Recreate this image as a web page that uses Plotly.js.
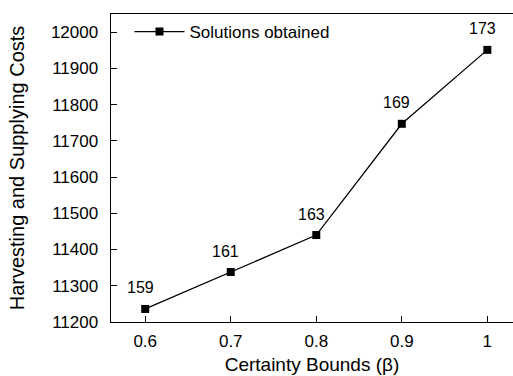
<!DOCTYPE html>
<html>
<head>
<meta charset="utf-8">
<script src="https://cdn.plot.ly/plotly-3.0.1.min.js"></script>
<style>html,body{margin:0;padding:0;background:#fff;}#chart{width:513px;height:376px;}</style>
</head>
<body>
<div id="chart"></div>
<script>
const bounds = [0.6, 0.7, 0.8, 0.9, 1];
const costs = [11236, 11338, 11440, 11747, 11951];
const solutionLabels = ['159', '161', '163', '169', '173'];
const xTicks = [0.6, 0.7, 0.8, 0.9, 1];
const xTickText = ['0.6', '0.7', '0.8', '0.9', '1'];
const yTicks = [11200, 11300, 11400, 11500, 11600, 11700, 11800, 11900, 12000];
const yTickText = ['11200', '11300', '11400', '11500', '11600', '11700', '11800', '11900', '12000'];

const fam = 'Liberation Sans, Arial, sans-serif';
const tickFont = {family: fam, size: 17, color: '#000'};
const xTitleFont = {family: fam, size: 19, color: '#000'};
const yTitleFont = {family: fam, size: 20, color: '#000'};
const labelFont = {family: fam, size: 16, color: '#000'};

const trace = {
  x: bounds, y: costs, type: 'scatter', mode: 'lines+markers',
  name: 'Solutions obtained',
  line: {color: '#000', width: 1.3},
  marker: {symbol: 'square', size: 8, color: '#000'}
};

const annotations = bounds.map((b, i) => ({
  x: b, y: costs[i], xref: 'x', yref: 'y', text: solutionLabels[i],
  showarrow: false, xshift: -5, yshift: 21, font: labelFont
}));

const layout = {
  width: 513, height: 376,
  margin: {l: 110.5, r: 0, t: 14, b: 54},
  paper_bgcolor: '#fff', plot_bgcolor: '#fff',
  font: tickFont,
  showlegend: true,
  legend: {x: 0.046, y: 1.0, xanchor: 'left', yanchor: 'top', bgcolor: 'rgba(0,0,0,0)', font: tickFont, itemwidth: 50},
  xaxis: {
    range: [0.56, 1.03], tickvals: xTicks, ticktext: xTickText,
    ticks: 'inside', ticklen: 6, tickcolor: '#000', showline: true, linecolor: '#000', linewidth: 1.4,
    mirror: true, showgrid: false, zeroline: false, tickfont: tickFont, ticklabelstandoff: 3,
    title: {text: 'Certainty Bounds (β)', font: xTitleFont, standoff: 8}
  },
  yaxis: {
    range: [11200, 12050], tickvals: yTicks, ticktext: yTickText,
    ticks: 'inside', ticklen: 6, tickcolor: '#000', showline: true, linecolor: '#000', linewidth: 1.4,
    showgrid: false, zeroline: false, tickfont: tickFont, ticklabelstandoff: 8,
    title: {text: 'Harvesting and Supplying Costs', font: yTitleFont, standoff: 21}
  },
  annotations: annotations
};

Plotly.newPlot('chart', [trace], layout, {staticPlot: true, displayModeBar: false});
</script>
</body>
</html>
